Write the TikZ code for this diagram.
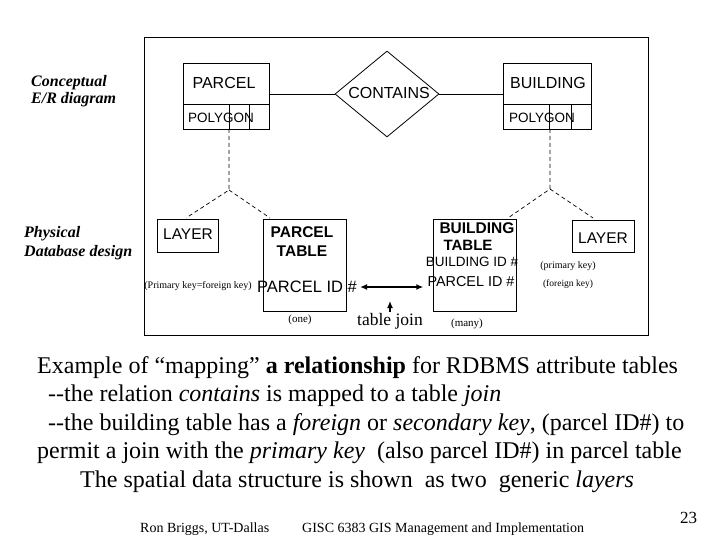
\documentclass[tikz,border=0pt]{standalone}
\usepackage{fontspec}
\setmainfont{Liberation Serif}
\newfontfamily\arialf{Liberation Sans}
\usetikzlibrary{shapes.geometric,arrows.meta,calc}
\newcommand\fsz[1]{\fontsize{#1}{#1}\selectfont}
\begin{document}
\begin{tikzpicture}[x=1pt,y=-1pt,
  boxshape/.style={draw,line width=0.8pt,inner sep=0pt,rectangle},
  sanslab/.style={font=\arialf\fsz{16},inner sep=0pt},
  sansbold/.style={font=\arialf\bfseries\fsz{15.5},inner sep=0pt},
  smallser/.style={font=\fsz{10},inner sep=0pt},
  sidelab/.style={font=\bfseries\itshape\fsz{16},inner sep=0pt,align=left},
  bodytxt/.style={font=\fsz{24},inner sep=0pt,anchor=base west},
  foot/.style={font=\fsz{14},inner sep=0pt,anchor=base west},
  dashline/.style={line width=0.7pt,dash pattern=on 4pt off 3pt},
  joinarrow/.style={line width=1.4pt,{Latex[length=7pt,width=6pt]}-{Latex[length=7pt,width=6pt]}}
]
\useasboundingbox (0,0) rectangle (720,540);
\fill[white] (0,0) rectangle (720,540);
% frame
\draw[line width=0.9pt] (144,37) rectangle (648,335);

% side labels
\node[sidelab,anchor=west] (concl) at (31,91) {Conceptual\\[1pt]E/R diagram};
\node[sidelab,anchor=west] (physl) at (24,243) {Physical\\[3pt]Database design};

% ER entities
\node[boxshape,minimum width=86pt,minimum height=41pt] (parcel) at (226,83.5) {};
\node[sanslab] (parceltxt) at (224,83) {PARCEL};
\node[boxshape,minimum width=86pt,minimum height=25pt,anchor=north] (ppoly) at (parcel.south) {};
\node[font=\arialf\fsz{13.5},inner sep=0pt,anchor=west] (ppolytxt) at (188,118) {POLYGON};
\coordinate (pv1) at (229,104);
\coordinate (pv1b) at (229,129);
\coordinate (pv2) at (249,104);
\coordinate (pv2b) at (249,129);
\draw[line width=0.8pt] (pv1) -- (pv1b) (pv2) -- (pv2b);

\node[boxshape,minimum width=88pt,minimum height=41pt] (building) at (547,83.5) {};
\node[sanslab] (buildingtxt) at (548,83) {BUILDING};
\node[boxshape,minimum width=88pt,minimum height=25pt,anchor=north] (bpoly) at (building.south) {};
\node[font=\arialf\fsz{13.5},inner sep=0pt,anchor=west] (bpolytxt) at (509,118) {POLYGON};
\coordinate (bv1) at (549,104);
\coordinate (bv1b) at (549,129);
\coordinate (bv2) at (571,104);
\coordinate (bv2b) at (571,129);
\draw[line width=0.8pt] (bv1) -- (bv1b) (bv2) -- (bv2b);

% relationship
\node[draw,line width=0.8pt,diamond,minimum width=104pt,minimum height=86pt,inner sep=0pt] (contains) at (387,94) {};
\node[sanslab] (containstxt) at (389,93) {CONTAINS};
\draw[line width=0.8pt] (contains.west) -- (contains.west -| parcel.east);
\draw[line width=0.8pt] (contains.east) -- (contains.east -| building.west);

% physical tables
\node[boxshape,minimum width=61pt,minimum height=33pt] (layerl) at (187.5,235.5) {};
\node[font=\arialf\fsz{15.5},inner sep=0pt] (layerltxt) at (188,234) {LAYER};
\node[boxshape,minimum width=83pt,minimum height=92pt] (ptable) at (304.5,265) {};
\node[sansbold] (ptabt1) at (302,232) {PARCEL};
\node[sansbold] (ptabt2) at (302,251) {TABLE};
\node[font=\arialf\fsz{16.5},inner sep=0pt] (pid) at (307,287) {PARCEL ID \#};
\node[smallser] (pkfk) at (198,286) {(Primary key=foreign key)};
\node[font=\fsz{11},inner sep=0pt] (one) at (300,320) {(one)};

\node[boxshape,minimum width=83pt,minimum height=92pt] (btable) at (474.5,265) {};
\node[sansbold] (btabt1) at (477,228) {BUILDING};
\node[sansbold,font=\arialf\bfseries\fsz{15}] (btabt2) at (468,245) {TABLE};
\node[font=\arialf\fsz{13.5},inner sep=0pt] (bid) at (472,262) {BUILDING ID \#};
\node[font=\arialf\fsz{14.4},inner sep=0pt] (bpid) at (471,282) {PARCEL ID \#};
\node[smallser] (pk) at (568,266) {(primary key)};
\node[font=\fsz{9.5},inner sep=0pt] (fk) at (568,284) {(foreign key)};
\node[font=\fsz{11},inner sep=0pt] (many) at (467,324) {(many)};

\node[boxshape,minimum width=62pt,minimum height=32pt] (layerr) at (603,236) {};
\node[font=\arialf\fsz{15.5},inner sep=0pt] (layerrtxt) at (603,238) {LAYER};

% dashed derivations
\coordinate (brl) at (229,190);
\coordinate (brr) at (550,189);
\coordinate (tl1) at (186,218);
\coordinate (tl2) at (270,218);
\coordinate (tr1) at (508,218);
\coordinate (tr2) at (593,218);
\coordinate (bstart) at (550,129);
\draw[dashline] (pv1b) -- (brl) -- (tl1);
\draw[dashline] (brl) -- (tl2);
\draw[dashline] (bstart) -- (brr) -- (tr1);
\draw[dashline] (brr) -- (tr2);

% join
\draw[joinarrow] ($(pid.east)+(3,0)$) -- ($(bpid.west)+(-4,5)$);
\node[font=\fsz{17.5},inner sep=0pt] (tjoin) at (390,321) {table join};
\coordinate (tjtip) at (390,301);
\draw[line width=1.4pt,-{Latex[length=7pt,width=6pt]}] (tjoin.north) ++(0,-1) -- (tjtip);

% body text
\node[bodytxt] (l1) at (37,373) {Example of “mapping” \textbf{a relationship} for RDBMS attribute tables};
\node[bodytxt] (l2) at (48,401.5) {-{}-the relation \textit{contains} is mapped to a table \textit{join}};
\node[bodytxt] (l3) at (48,430) {-{}-the building table has a \textit{foreign} or \textit{secondary key}, (parcel ID\#) to};
\node[bodytxt] (l4) at (37,458.5) {permit a join with the \textit{primary key}\ \ (also parcel ID\#) in parcel table};
\node[bodytxt] (l5) at (80,487) {The spatial data structure is shown\ \ as two\ \ generic \textit{layers}};

% footer
\node[foot] (f1) at (140,532) {Ron Briggs, UT-Dallas};
\node[foot] (f2) at (302,532) {GISC 6383 GIS Management and Implementation};
\node[font=\fsz{17},inner sep=0pt,anchor=base west] (pg) at (680,523) {23};
\end{tikzpicture}
\end{document}
